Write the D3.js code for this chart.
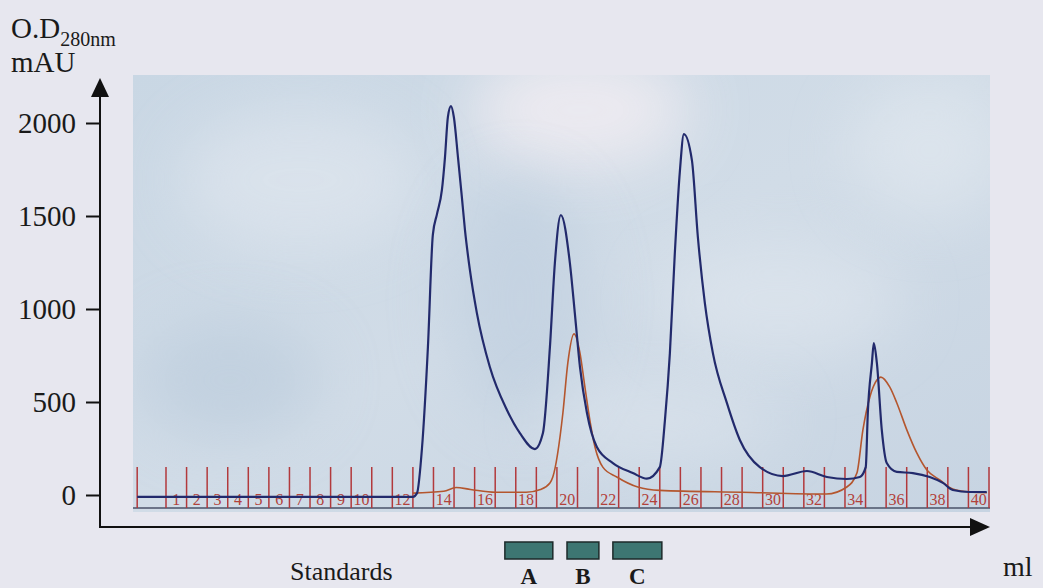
<!DOCTYPE html>
<html>
<head>
<meta charset="utf-8">
<script src="https://cdn.jsdelivr.net/npm/d3@7"></script>
<style>
  body { margin: 0; background: #e7e7ef; }
  svg { display: block; }
  text { font-family: "Liberation Serif", "DejaVu Serif", serif; }
</style>
</head>
<body>
<svg id="chart" width="1043" height="588"></svg>
<script>
// blue trace: O.D 280nm (ml, mAU)
const blueMl = [-1.4, 12.0, 12.2, 12.44, 12.73, 12.97, 13.17, 13.41, 13.56, 13.70, 13.85, 13.99, 14.19, 14.38, 14.53, 14.77,
  15.11, 15.74, 16.57, 17.20, 17.93, 18.32, 18.66, 18.90, 19.19, 19.63, 19.87, 20.12, 20.46, 20.94, 21.72, 22.69, 23.37,
  24.0, 24.25, 24.49, 24.73, 24.98, 25.17, 25.56, 25.85, 26.19, 26.58, 27.26, 27.89, 28.86, 29.98, 31.15, 32.12, 33.09,
  33.72, 34.01, 34.11, 34.31, 34.40, 34.55, 34.79, 35.03, 35.52, 36.30, 37.12, 37.76, 38.24, 39.07, 39.89];
const blueMau = [-10, -10, 10, 250, 796, 1400, 1510, 1640, 1817, 2032, 2091, 2032, 1817, 1602, 1425, 1210,
  978, 688, 457, 333, 247, 333, 796, 1247, 1505, 1247, 978, 688, 441, 258, 172, 118, 88,
  150, 403, 763, 1300, 1747, 1940, 1800, 1387, 1032, 763, 495, 296, 150, 102, 129, 97, 86,
  97, 150, 441, 710, 817, 710, 349, 172, 124, 118, 97, 65, 27, 16, 16];

// red trace: standards (ml, mAU)
const redMl = [12.0, 13.5, 14.1, 14.8, 16.0, 17.5, 18.2, 18.66, 18.80, 19.29, 19.53, 19.83, 20.12, 20.36, 20.60, 20.85,
  21.23, 21.91, 22.93, 24.0, 28.0, 32.1, 33.09, 33.58, 33.87, 34.21, 34.55, 34.74, 35.18, 35.52, 36.01, 36.49, 36.98,
  37.61, 38.24, 39.07, 39.9];
const redMau = [10, 20, 40, 30, 15, 15, 30, 65, 97, 441, 710, 866, 763, 580, 403, 258,
  150, 97, 43, 25, 15, 5, 43, 118, 349, 527, 618, 634, 580, 495, 349, 226, 134,
  81, 32, 16, 12];

const yTicks = [0, 500, 1000, 1500, 2000];
const fractionTicks = [-1.4].concat(d3.range(0, 41));
const fractionLabels = [1, 2, 3, 4, 5, 6, 7, 8, 9, 10, 12, 14, 16, 18, 20, 22, 24, 26, 28, 30, 32, 34, 36, 38, 40];

const standardNames = ['A', 'B', 'C'];
const standardStart = [16.47, 19.49, 21.72];
const standardEnd = [18.80, 21.04, 24.1];

const svg = d3.select('#chart');

const x = d3.scaleLinear().domain([0, 40]).range([166, 989]);
const y = d3.scaleLinear().domain([0, 2000]).range([495, 123]);

// scanned strip background
const defs = svg.append('defs');
const grad = defs.append('linearGradient').attr('id', 'paper')
  .attr('x1', 0).attr('y1', 0).attr('x2', 1).attr('y2', 1);
grad.append('stop').attr('offset', '0%').attr('stop-color', '#c9d7e4');
grad.append('stop').attr('offset', '50%').attr('stop-color', '#d1dce7');
grad.append('stop').attr('offset', '100%').attr('stop-color', '#c7d4e2');
defs.append('filter').attr('id', 'blur')
  .attr('x', '-50%').attr('y', '-50%').attr('width', '200%').attr('height', '200%')
  .append('feGaussianBlur').attr('stdDeviation', 30);
defs.append('clipPath').attr('id', 'strip')
  .append('rect').attr('x', 133).attr('y', 75).attr('width', 857).attr('height', 437);

svg.append('rect')
  .attr('x', 133).attr('y', 75).attr('width', 857).attr('height', 437)
  .attr('fill', 'url(#paper)');

const blobs = [
  [580, 110, 110, 60, '#f3eef3', 0.8],
  [300, 180, 120, 70, '#e2e8f0', 0.6],
  [780, 300, 120, 60, '#e4eaf1', 0.5],
  [930, 150, 80, 70, '#e6ecf2', 0.5],
  [230, 380, 90, 60, '#b5c7d9', 0.5],
  [520, 300, 70, 120, '#bacbdd', 0.5],
  [660, 420, 120, 40, '#e0e7ef', 0.5]
];
svg.append('g').attr('clip-path', 'url(#strip)')
  .selectAll('ellipse').data(blobs).join('ellipse')
  .attr('cx', d => d[0]).attr('cy', d => d[1])
  .attr('rx', d => d[2]).attr('ry', d => d[3])
  .attr('fill', d => d[4]).attr('opacity', d => d[5])
  .attr('filter', 'url(#blur)');

// strip bottom line
svg.append('line')
  .attr('x1', 133).attr('x2', 990).attr('y1', 508).attr('y2', 508)
  .attr('stroke', '#4a5268').attr('stroke-width', 1.5);

// fraction ticks and labels
svg.append('g').selectAll('line').data(fractionTicks).join('line')
  .attr('x1', d => x(d)).attr('x2', d => x(d))
  .attr('y1', 467).attr('y2', 508)
  .attr('stroke', '#b2393c').attr('stroke-width', 1.5);

svg.append('g').selectAll('text').data(fractionLabels).join('text')
  .attr('x', d => x(d - 0.5)).attr('y', 505)
  .attr('text-anchor', 'middle')
  .attr('fill', '#b2413a')
  .style('font-size', '16px')
  .text(d => d);

// traces
const line = d3.line().curve(d3.curveMonotoneX);

svg.append('path')
  .attr('d', line(redMl.map((v, i) => [x(v), y(redMau[i])])))
  .attr('fill', 'none').attr('stroke', '#b4562e').attr('stroke-width', 1.6);

svg.append('path')
  .attr('d', line(blueMl.map((v, i) => [x(v), y(blueMau[i])])))
  .attr('fill', 'none').attr('stroke', '#222a6c').attr('stroke-width', 2.2);

// y axis with arrow
svg.append('line').attr('x1', 100).attr('x2', 100).attr('y1', 95).attr('y2', 528)
  .attr('stroke', '#111').attr('stroke-width', 2);
svg.append('path').attr('d', 'M100,78 L91,97 L109,97 Z').attr('fill', '#111');

const yAxis = svg.append('g')
  .attr('transform', 'translate(100,0)')
  .call(d3.axisLeft(y).tickValues(yTicks).tickSize(14).tickPadding(10).tickFormat(d3.format('d')));
yAxis.select('.domain').remove();
yAxis.selectAll('.tick line').attr('stroke', '#111').attr('stroke-width', 2);
yAxis.selectAll('.tick text')
  .attr('fill', '#1a1a1a')
  .style('font-family', '"Liberation Serif", serif')
  .style('font-size', '29px');

// x axis with arrow
svg.append('line').attr('x1', 99).attr('x2', 975).attr('y1', 527).attr('y2', 527)
  .attr('stroke', '#111').attr('stroke-width', 2);
svg.append('path').attr('d', 'M990,527 L970,518 L970,536 Z').attr('fill', '#111');

// axis titles
const yTitle = svg.append('text').attr('x', 11).attr('y', 38)
  .attr('fill', '#1a1a1a').style('font-size', '29px');
yTitle.append('tspan').text('O.D');
yTitle.append('tspan').attr('dy', 8).style('font-size', '20px').text('280nm');
svg.append('text').attr('x', 11).attr('y', 72)
  .attr('fill', '#1a1a1a').style('font-size', '29px').text('mAU');

svg.append('text').attr('x', 1003).attr('y', 576)
  .attr('fill', '#1a1a1a').style('font-size', '28px').text('ml');

svg.append('text').attr('x', 290).attr('y', 580)
  .attr('fill', '#1a1a1a').style('font-size', '26px').text('Standards');

// standard markers
svg.append('g').selectAll('rect').data(standardNames).join('rect')
  .attr('x', (d, i) => x(standardStart[i]))
  .attr('width', (d, i) => x(standardEnd[i]) - x(standardStart[i]))
  .attr('y', 542).attr('height', 17)
  .attr('fill', '#3d7672').attr('stroke', '#1c2a2a').attr('stroke-width', 1.5);

svg.append('g').selectAll('text').data(standardNames).join('text')
  .attr('x', (d, i) => (x(standardStart[i]) + x(standardEnd[i])) / 2)
  .attr('y', 584)
  .attr('text-anchor', 'middle')
  .attr('fill', '#1a1a1a')
  .style('font-size', '23px').style('font-weight', 'bold')
  .text(d => d);
</script>
</body>
</html>
